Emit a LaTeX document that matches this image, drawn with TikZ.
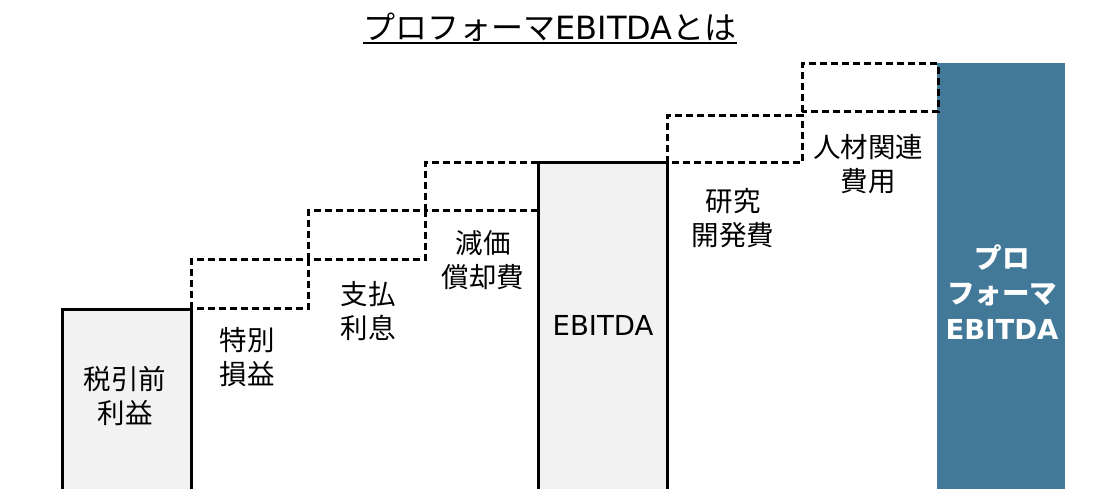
\documentclass[tikz,border=0pt]{standalone}
\usepackage{fontspec}
\setmainfont{Noto Sans CJK JP}
\newfontfamily\latinfont{DejaVu Sans}
\newcommand{\ebitda}{{\latinfont EBITDA}}
\definecolor{bargray}{RGB}{242, 242, 242}
\definecolor{barblue}{RGB}{66, 121, 152}
\tikzset{
  barline/.style={draw=black, line width=3pt},
  costbox/.style={draw=black, line width=3pt, dash pattern=on 7pt off 4pt},
  itemtext/.style={align=center, inner sep=0pt, font=\fontsize{27.5}{34}\selectfont},
  totaltext/.style={itemtext, text=white, font=\fontsize{27.5}{35.5}\selectfont\bfseries}
}

\begin{document}
\begin{tikzpicture}[x=1pt, y=-1pt]
            \useasboundingbox (0,0) rectangle (1112,489);
            \fill[bargray]                 (  62,495) rectangle (191,310);
            \draw[barline]                 (  62,495) -- ( 62,310) -- (191,310) -- (191,495);
            \fill[bargray]                 ( 538,495) rectangle (667,163);
            \draw[barline]                 ( 538,495) -- (538,163) -- (667,163) -- (667,495);
            \fill[barblue]                 ( 937,495) rectangle (1065, 63);
            \draw[costbox]                 ( 191,309) rectangle (308,260);
            \draw[costbox]                 ( 308,260) rectangle (425,211);
            \draw[costbox]                 ( 425,211) rectangle (538,163);
            \draw[costbox]                 ( 667,163) rectangle (802,116);
            \draw[costbox]                 ( 802,112) rectangle (938, 64);
            \node[itemtext]  (pretax)   at ( 125,396) {税引前\\利益};
            \node[itemtext]  (special)  at ( 247,357) {特別\\損益};
            \node[itemtext]  (interest) at ( 368,311) {支払\\利息};
            \node[itemtext]  (deprec)   at ( 483,260) {減価\\償却費};
            \node[itemtext]  (ebitda)   at ( 603,325) {\ebitda};
            \node[itemtext]  (research) at ( 733,218) {研究\\開発費};
            \node[itemtext]  (staff)    at ( 868,164) {人材関連\\費用};
            \node[totaltext] (proforma) at (1002,292) {プロ\\フォーマ\\\ebitda};
            \node[inner sep=0pt, anchor=base, font=\fontsize{32}{36}\selectfont]
                             (title)    at ( 550, 40) {プロフォーマ\ebitda とは};
            \draw[line width=2pt] ([yshift=-3.5pt]title.base west) -- ([yshift=-3.5pt]title.base east);
        \end{tikzpicture}
\end{document}
